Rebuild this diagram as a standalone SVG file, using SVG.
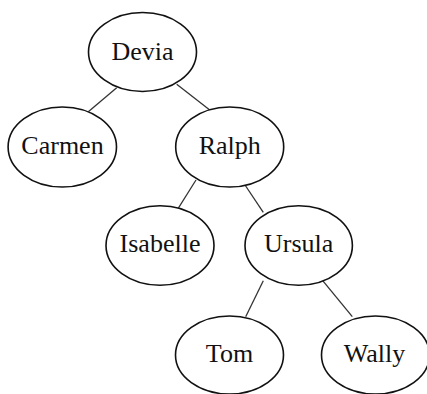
<svg xmlns="http://www.w3.org/2000/svg" width="427" height="394" viewBox="0 0 427 394">
  <style>
    .node ellipse { fill: #ffffff; stroke: #111111; stroke-width: 1.6; }
    .node text { font-family: "Liberation Serif", "Times New Roman", serif; font-size: 26px; fill: #111111; text-anchor: middle; }
    .edges line { stroke: #333333; stroke-width: 1.3; }
  </style>
  <rect width="427" height="394" fill="#ffffff"/>
  <g class="edges">
    <line x1="116.7" y1="87.7" x2="88.3" y2="111.7"/>
    <line x1="176.7" y1="84.3" x2="213.3" y2="112.7"/>
    <line x1="196" y1="180" x2="175.7" y2="212.3"/>
    <line x1="245" y1="185" x2="263.3" y2="212.3"/>
    <line x1="263.3" y1="280.7" x2="245.7" y2="316.7"/>
    <line x1="322.7" y1="280.7" x2="352.3" y2="316.7"/>
  </g>
  <g id="devia" class="node">
    <ellipse cx="142.5" cy="52" rx="54" ry="39.5"/>
    <text x="142.5" y="59.5">Devia</text>
  </g>
  <g id="carmen" class="node">
    <ellipse cx="62.3" cy="147" rx="54.2" ry="40"/>
    <text x="62.5" y="153.5">Carmen</text>
  </g>
  <g id="ralph" class="node">
    <ellipse cx="229.7" cy="147" rx="54" ry="40"/>
    <text x="229.7" y="153.5">Ralph</text>
  </g>
  <g id="isabelle" class="node">
    <ellipse cx="160" cy="245.5" rx="54" ry="39.7"/>
    <text x="160" y="252">Isabelle</text>
  </g>
  <g id="ursula" class="node">
    <ellipse cx="298.7" cy="245.5" rx="53.7" ry="39.7"/>
    <text x="298.7" y="252">Ursula</text>
  </g>
  <g id="tom" class="node">
    <ellipse cx="229.5" cy="355" rx="54" ry="39"/>
    <text x="229.5" y="362">Tom</text>
  </g>
  <g id="wally" class="node">
    <ellipse cx="375.5" cy="355" rx="54" ry="39"/>
    <text x="374.5" y="362">Wally</text>
  </g>
</svg>
